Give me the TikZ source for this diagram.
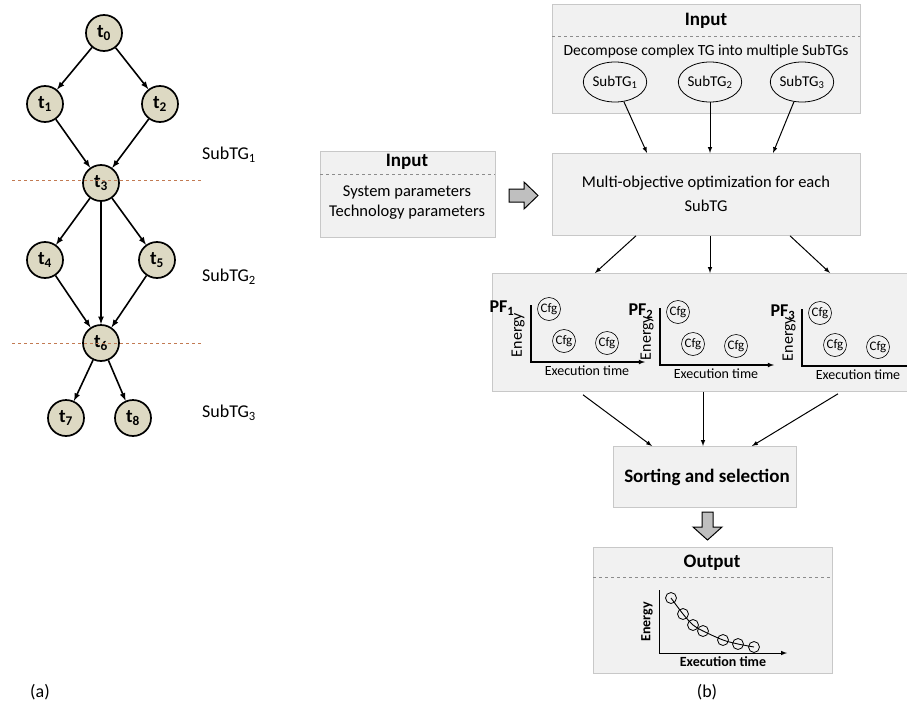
\documentclass[tikz,border=0pt]{standalone}
\usepackage{fontspec}
\setmainfont{Carlito}
\usetikzlibrary{shapes}
\definecolor{tgfill}{RGB}{221,217,195}
\definecolor{boxfill}{RGB}{241,241,241}
\definecolor{boxline}{RGB}{200,200,200}
\definecolor{cutline}{RGB}{194,122,82}
\definecolor{bigarrow}{RGB}{191,191,191}
\newcommand{\fs}[1]{\fontsize{#1}{#1}\selectfont}

\begin{document}
\begin{tikzpicture}[x=1pt, y=-1pt, >=latex]
        \tikzstyle{every node}=[font=\fs{15.5}]
        \tikzstyle{task}=[circle, draw, line width=1.7pt, fill=tgfill, minimum size=36pt, inner sep=0pt, font=\fs{19}\bfseries]
        \tikzstyle{panel}=[draw=boxline, fill=boxfill, line width=0.8pt, anchor=north west, inner sep=0pt]
        \tikzstyle{sep}=[boxline!70!black, dashed, line width=0.5pt]
        \tikzstyle{subtg}=[ellipse, draw, line width=0.8pt, minimum width=62pt, minimum height=40pt, inner sep=0pt, font=\fs{15}]
        \tikzstyle{cfg}=[circle, draw, line width=0.6pt, minimum size=23pt, inner sep=0pt, font=\fs{13}]
        \tikzstyle{flow}=[->, line width=1pt]
        \useasboundingbox (0,0) rectangle (907,717);

        % (a) task graph
        \node [task] (t0) at (104, 33) {t\textsubscript{0}};
        \node [task] (t1) at (45, 104) {t\textsubscript{1}};
        \node [task] (t2) at (160, 104) {t\textsubscript{2}};
        \node [task] (t3) at (101, 183) {t\textsubscript{3}};
        \node [task] (t4) at (45, 260) {t\textsubscript{4}};
        \node [task] (t5) at (157, 260) {t\textsubscript{5}};
        \node [task] (t6) at (101, 343) {t\textsubscript{6}};
        \node [task] (t7) at (66, 418) {t\textsubscript{7}};
        \node [task] (t8) at (133, 418) {t\textsubscript{8}};
        \draw[->, line width=1.6pt] (t0) edge (t1) (t0) edge (t2) (t1) edge (t3) (t2) edge (t3)
              (t3) edge (t4) (t3) edge (t6) (t3) edge (t5) (t4) edge (t6) (t5) edge (t6)
              (t6) edge (t7) (t6) edge (t8);
        \draw[cutline, dashed, line width=0.9pt] (12, 180) -- (202, 180);
        \draw[cutline, dashed, line width=0.9pt] (12, 343) -- (202, 343);
        \node [font=\fs{18}] (sub1) at (229, 155) {SubTG\textsubscript{1}};
        \node [font=\fs{18}] (sub2) at (229, 277) {SubTG\textsubscript{2}};
        \node [font=\fs{18}] (sub3) at (229, 413) {SubTG\textsubscript{3}};
        \node [font=\fs{18}] (capa) at (40, 692) {(a)};

        % (b) flow
        \node [panel, minimum width=308pt, minimum height=109pt] (inbox) at (552, 4) {};
        \node [font=\fs{19}\bfseries] (intitle) at (706, 21) {Input};
        \draw[sep] (552, 36) -- (860, 36);
        \node (decomp) at (706, 51) {Decompose complex TG into multiple SubTGs};
        \node [subtg] (e1) at (615, 82) {SubTG\textsubscript{1}};
        \node [subtg] (e2) at (710, 82) {SubTG\textsubscript{2}};
        \node [subtg] (e3) at (802, 82) {SubTG\textsubscript{3}};

        \node [panel, minimum width=175pt, minimum height=86pt] (parbox) at (320, 151) {};
        \node [font=\fs{19}\bfseries] (partitle) at (407, 162) {Input};
        \draw[sep] (320, 174) -- (495, 174);
        \node [align=center, font=\fontsize{16.5}{20}\selectfont] (partext) at (407, 203) {System parameters\\Technology parameters};
        \draw[fill=bigarrow, line width=1pt] (509, 189) -- (524, 189) -- (524, 182) -- (538, 195.5)
              -- (524, 209) -- (524, 202) -- (509, 202) -- cycle;

        \node [panel, minimum width=308pt, minimum height=82pt] (mobox) at (552, 153) {};
        \node [align=center, font=\fontsize{16.5}{24}\selectfont] (motext) at (706, 194) {Multi-objective optimization for each\\SubTG};
        \draw[flow] (e1) -- ([xshift=95pt]mobox.north west);
        \draw[flow] (e2) -- (e2 |- mobox.north);
        \draw[flow] (e3) -- ([xshift=221pt]mobox.north west);

        \node [panel, draw=none, minimum width=415pt, minimum height=118pt] (pfbox) at (492, 273) {};
        \draw[boxline, line width=0.8pt] (907, 273) -- (492, 273) -- (492, 391) -- (907, 391);
        \draw[flow] ([xshift=84pt]mobox.south west) -- ([xshift=103pt]pfbox.north west);
        \draw[flow] ([xshift=158pt]mobox.south west) -- ([xshift=218pt]pfbox.north west);
        \draw[flow] ([xshift=238pt]mobox.south west) -- ([xshift=338pt]pfbox.north west);
        \foreach \ox/\oy/\px/\i in {531/362/502/1, 660/365/641/2, 802/366/783/3} {
          \coordinate (org\i) at (\ox, \oy);
          \node [font=\fs{18}\bfseries] (pf\i) at (\px, \oy-54) {PF\textsubscript{\i}};
          \draw[->, line width=1.1pt] (\ox, \oy-57) -- (org\i) -- (\ox+114, \oy);
          \node [rotate=90, font=\fs{16}] (en\i) at (\ox-13, \oy-27) {Energy};
          \node [font=\fs{14}] (ex\i) at (\ox+56, \oy+9) {Execution time};
          \node [cfg] (ca\i) at (\ox+18, \oy-53) {Cfg};
          \node [cfg] (cb\i) at (\ox+33, \oy-21) {Cfg};
          \node [cfg] (cc\i) at (\ox+76, \oy-19) {Cfg};
        }

        \node [panel, minimum width=183pt, minimum height=61pt] (sortbox) at (613, 446) {};
        \node [font=\fs{19}\bfseries] (sorttext) at (707, 477) {Sorting and selection};
        \draw[flow] ([xshift=91pt, yshift=-3pt]pfbox.south west) -- ([xshift=39pt]sortbox.north west);
        \draw[flow] ([xshift=211pt]pfbox.south west) -- ([xshift=90pt]sortbox.north west);
        \draw[flow] ([xshift=346pt, yshift=-2pt]pfbox.south west) -- ([xshift=139pt]sortbox.north west);
        \draw[fill=bigarrow, line width=1pt] (702, 512) -- (713, 512) -- (713, 527) -- (722, 527)
              -- (707.5, 540) -- (693, 527) -- (702, 527) -- cycle;

        \node [panel, minimum width=239pt, minimum height=126pt] (outbox) at (593, 547) {};
        \node [font=\fs{19}\bfseries] (outtitle) at (712, 563) {Output};
        \draw[sep] (593, 577) -- (832, 577);
        \coordinate (orgo) at (659, 653);
        \draw[->, line width=1pt] (659, 590) -- (orgo) -- (787, 653);
        \node [rotate=90, font=\fs{14}\bfseries] (eno) at (647, 622) {Energy};
        \node [font=\fs{14}\bfseries] (exo) at (723, 662) {Execution time};
        \draw[line width=0.9pt] plot[smooth] coordinates {(671,598) (683,614) (693,625) (703,631) (723,640) (738,644) (754,647)};
        \foreach \cx/\cy [count=\k] in {671/598, 683/614, 693/625, 703/631, 723/640, 738/644, 754/647}
          \node [circle, draw, line width=0.8pt, minimum size=11pt, inner sep=0pt] (pt\k) at (\cx, \cy) {};
        \node [font=\fs{18}] (capb) at (707, 692) {(b)};
\end{tikzpicture}
\end{document}
